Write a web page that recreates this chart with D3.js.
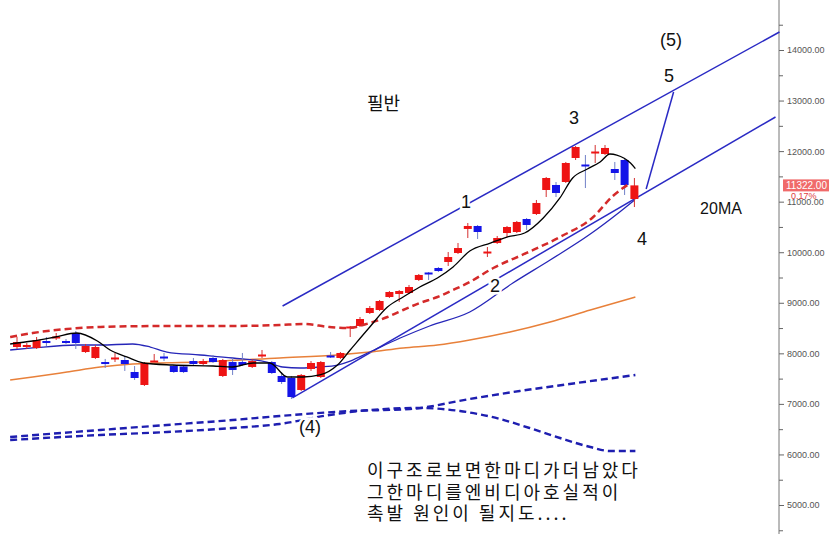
<!doctype html>
<html>
<head>
<meta charset="utf-8">
<script src="https://cdnjs.cloudflare.com/ajax/libs/d3/7.8.5/d3.min.js"></script>
<style>
    body { margin: 0; background: #fff; }
    svg { display: block; }
    .axis text { font-family: 'Liberation Sans', Arial, sans-serif; font-size: 9px; fill: #555; }
    .axis line { stroke: #666; }
    .note { font-family: 'Liberation Sans', Arial, sans-serif; fill: #111; }
    .kr { font-family: 'Noto Sans CJK KR', sans-serif; fill: #111; }
</style>
</head>
<body>
<div id="graph"></div>
<script>
// daily candles, index 0..63
const opens = [8125,8125,8106,8244,8313,8244,8402,8026,7908,7828,7898,7868,7631,7374,7838,7937,7749,7740,7848,7789,
    7908,7552,7828,7828,7730,7957,7828,7552,7512,7275,7690,7532,7957,7908,8511,8541,8798,8857,9114,9174,
    9194,9451,9599,9688,9807,9985,10460,10519,9994,10182,10380,10400,10657,10756,11231,11330,11389,11864,11735,11973,
    11943,11646,11824,11053]
const closes = [8224,8165,8264,8204,8333,8224,8204,8145,8125,7789,7918,7789,7512,7809,7858,7918,7631,7630,7789,7848,
    7828,7868,7670,7769,7848,7977,7611,7433,7136,7572,7809,7828,7937,8007,8531,8679,8897,9035,9213,9233,
    9312,9550,9579,9628,9905,10083,10519,10400,10014,10281,10499,10598,10539,10974,11468,11172,11765,12081,11715,11992,
    12062,11567,11330,11322]
const highs = [8323,8204,8323,8323,8402,8284,8442,8185,8165,7889,8007,7947,7749,7828,7987,8007,7769,7760,7908,7889,
    7967,7889,7908,8007,7889,8066,7848,7631,7552,7591,7848,7848,8026,8026,8541,8719,8936,9055,9233,9253,
    9352,9569,9609,9708,10004,10182,10578,10539,10103,10321,10519,10618,10677,11033,11488,11389,11785,12101,11923,12121,
    12121,11785,11844,11468]
const lows = [8086,8086,8086,8145,8264,8185,8086,8007,7889,7710,7828,7651,7473,7354,7828,7848,7611,7610,7769,7769,
    7809,7532,7572,7749,7710,7908,7591,7394,7097,7255,7651,7512,7908,7889,8323,8521,8778,8838,9095,9016,
    9174,9431,9451,9609,9728,9965,10281,10262,9905,10163,10301,10380,10440,10736,11092,11092,11369,11824,11270,11765,
    11923,11429,11132,10894]

// indicator lines, [index, value]
const ma5 = [[-0.7,8185],[1.6,8244],[3.9,8323],[6.1,8402],[8.2,8244],[9.5,8066],[11.2,7928],[12.9,7809],[15.9,7769],[20,7749],
    [22,7730],[24.1,7809],[25.8,7809],[27.6,7532],[29.2,7532],[30.9,7572],[32.7,7769],[34,8066],[36,8521],[37.8,8916],
    [39.4,9114],[41.1,9312],[42.9,9490],[44.5,9708],[46.2,10024],[48.3,10182],[50,10301],[51.8,10380],[53.7,10677],[55.4,11073],
    [56.7,11468],[58.2,11646],[59.5,11785],[60.5,11943],[61.2,11923],[62.6,11765],[63.1,11655]]
const ma20 = [[-0.7,8066],[1.6,8106],[6.1,8165],[8.5,8165],[11.8,8185],[13.6,8125],[15.3,8026],[18.7,7967],[22,7908],[25.5,7828],
    [27.1,7730],[28.9,7710],[30.9,7730],[32.7,7769],[34,7848],[36,8026],[39.1,8303],[42.1,8541],[46.2,8818],[50.6,9391],
    [54.4,9846],[58.5,10360],[61.5,10796],[63,11030]]
const envUpper = [[-0.7,8323],[1.6,8402],[5.1,8481],[8.5,8521],[15.3,8541],[22,8541],[26.8,8560],[29.2,8580],[31.9,8521],[33.7,8501],
    [36,8600],[37.8,8719],[39.4,8857],[41.1,8995],[42.9,9114],[44.5,9253],[46.2,9411],[48.6,9688],[52,9985],[55.4,10301],
    [58.8,10697],[60.8,11112],[62.6,11369]]
const ma60 = [[-0.7,7473],[1.6,7532],[5.1,7631],[8.5,7730],[11.8,7789],[18.7,7828],[26.8,7908],[32.7,7967],[36,8026],[39.4,8106],
    [42.9,8165],[46.2,8264],[50.3,8422],[54.4,8620],[58.5,8857],[63.1,9114]]
const bandUpper = [[-0.7,6345],[8.5,6484],[15.3,6583],[22,6681],[26.8,6760],[34,6859],[40.1,6899],[46.2,7097],[51.3,7255],[56.4,7394],
    [63.1,7572]]
const bandLower = [[-0.7,6286],[8.5,6385],[15.3,6444],[22,6523],[26.8,6602],[31.9,6780],[36,6879],[41.1,6919],[45.2,6859],[49.3,6701],
    [52.3,6523],[55.4,6325],[58.5,6147],[60.5,6068],[63.1,6068]]

// hand drawn trend lines
const channelTop = [[27.1,8936],[77.8,14356]]
const channelBottom = [[28.1,7117],[77.4,12675]]
const waveLeg = [[67.0,13169],[64.2,11251]]

const tickValues = [5000,6000,7000,8000,9000,10000,11000,12000,13000,14000]
const lastPrice = 11322
const lastChange = '0.17%'

const width = 829, height = 534

const svg = d3.select('#graph')
    .append('svg')
    .attr('width', width)
    .attr('height', height)

const x = d3.scaleLinear().domain([0, 63]).range([17, 634.4])
const y = d3.scaleLinear().domain([5000, 14000]).range([505, 50])

// right axis
svg.append('line')
    .attr('x1', 779).attr('x2', 779)
    .attr('y1', 0).attr('y2', height)
    .attr('stroke', '#777')

const axis = svg.append('g')
    .attr('class', 'axis')
    .attr('transform', 'translate(779,0)')
    .call(d3.axisRight(y).tickValues(tickValues).tickSize(5).tickPadding(3).tickFormat(d3.format('.2f')))
axis.select('.domain').remove()

const minor = svg.append('g')
    .attr('class', 'axis')
    .attr('transform', 'translate(779,0)')
    .call(d3.axisRight(y).tickValues(d3.range(4500, 15000, 1000)).tickSize(4).tickFormat(''))
minor.select('.domain').remove()

// last price tag
svg.append('rect')
    .attr('x', 783).attr('y', y(lastPrice) - 6)
    .attr('width', 46).attr('height', 12)
    .attr('fill', '#f06a6a')
svg.append('text')
    .attr('x', 786).attr('y', y(lastPrice) + 4)
    .style('font-family', 'Liberation Sans, Arial, sans-serif')
    .style('font-size', '10px')
    .attr('fill', '#fff')
    .text(lastPrice + '.00')
svg.append('text')
    .attr('x', 791).attr('y', y(lastPrice) + 14)
    .style('font-family', 'Liberation Sans, Arial, sans-serif')
    .style('font-size', '9px')
    .attr('fill', '#e04040')
    .text(lastChange)

const line = d3.line().x(d => x(d[0])).y(d => y(d[1]))
const smooth = d3.line().x(d => x(d[0])).y(d => y(d[1])).curve(d3.curveMonotoneX)

// trend channel
;[channelTop, channelBottom, waveLeg].forEach(pts => {
    svg.append('path').attr('d', line(pts))
        .attr('fill', 'none').attr('stroke', '#2a2ac4').attr('stroke-width', 1.5)
})

// bands
;[bandUpper, bandLower].forEach(pts => {
    svg.append('path').attr('d', smooth(pts))
        .attr('fill', 'none').attr('stroke', '#1e1eb0').attr('stroke-width', 2.4)
        .attr('stroke-dasharray', '7,4')
})
svg.append('path').attr('d', smooth(ma60))
    .attr('fill', 'none').attr('stroke', '#e8803a').attr('stroke-width', 1.5)
svg.append('path').attr('d', smooth(ma20))
    .attr('fill', 'none').attr('stroke', '#2626b8').attr('stroke-width', 1.3)

// candles
const candles = d3.range(opens.length).map(i => ({
    i, o: opens[i], c: closes[i], h: highs[i], l: lows[i]
}))
const up = d => d.c >= d.o

svg.selectAll('.wick')
    .data(candles)
    .enter()
    .append('line')
    .attr('class', 'wick')
    .attr('x1', d => x(d.i)).attr('x2', d => x(d.i))
    .attr('y1', d => y(d.h)).attr('y2', d => y(d.l))
    .attr('stroke', d => up(d) ? '#d43030' : '#7080c8')
    .attr('stroke-width', 1)

svg.selectAll('.body')
    .data(candles)
    .enter()
    .append('rect')
    .attr('class', 'body')
    .attr('x', d => x(d.i) - 4)
    .attr('width', 8)
    .attr('y', d => y(Math.max(d.o, d.c)))
    .attr('height', d => Math.max(2, Math.abs(y(d.o) - y(d.c))))
    .attr('fill', d => up(d) ? '#ee1414' : '#1414e8')

svg.append('path').attr('d', smooth(envUpper))
    .attr('fill', 'none').attr('stroke', '#d42a2a').attr('stroke-width', 2.5)
    .attr('stroke-dasharray', '7,4')
svg.append('path').attr('d', smooth(ma5))
    .attr('fill', 'none').attr('stroke', '#000').attr('stroke-width', 1.3)

// annotations
const notes = [
    ['(5)', 671, 46, 18], ['5', 669, 82, 18], ['3', 574, 124, 18], ['1', 466, 208, 18],
    ['4', 642, 245, 18], ['2', 495, 292, 18], ['(4)', 310, 433, 18], ['20MA', 721, 214, 16]
]
svg.selectAll('.note')
    .data(notes)
    .enter()
    .append('text')
    .attr('class', 'note')
    .attr('x', d => d[1]).attr('y', d => d[2])
    .attr('text-anchor', 'middle')
    .style('font-size', d => d[3] + 'px')
    .attr('stroke', '#fff').attr('stroke-width', 5).attr('paint-order', 'stroke')
    .text(d => d[0])

svg.append('text')
    .attr('class', 'kr')
    .attr('x', 367).attr('y', 110)
    .style('font-size', '18px')
    .text('필반')

const comment = ['이구조로보면한마디가더남았다', '그한마디를엔비디아호실적이', '촉발 원인이 될지도....']
svg.selectAll('.cm')
    .data(comment)
    .enter()
    .append('text')
    .attr('class', 'kr')
    .attr('x', 367)
    .attr('y', (d, i) => 477 + i * 21.5)
    .style('font-size', '18px')
    .style('letter-spacing', '3px')
    .text(d => d)
</script>
</body>
</html>
